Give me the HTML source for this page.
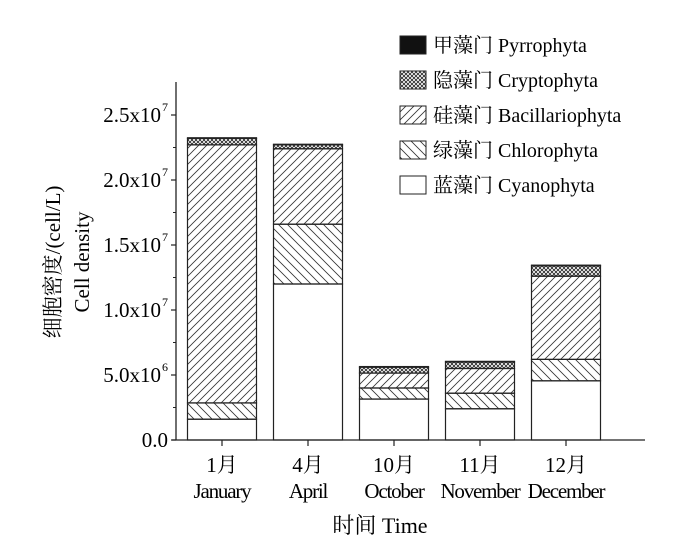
<!DOCTYPE html>
<html><head><meta charset="utf-8"><style>
html,body{margin:0;padding:0;background:#fff;}
svg{display:block;font-family:"Liberation Serif","Noto Serif CJK SC",serif;}
</style></head><body>
<svg id="chart" width="700" height="544" viewBox="0 0 700 544">
<defs>
<pattern id="pBac" patternUnits="userSpaceOnUse" width="8" height="8"><path d="M-2,2 L2,-2 M0,8 L8,0 M6,10 L10,6" stroke="#333" stroke-width="0.8"/></pattern>
<pattern id="pChl" patternUnits="userSpaceOnUse" width="9" height="9"><path d="M-2,7 L2,11 M0,0 L9,9 M7,-2 L11,2" stroke="#333" stroke-width="0.8"/></pattern>
<pattern id="pCry" patternUnits="userSpaceOnUse" width="4" height="4"><path d="M0,0 L4,4 M4,0 L0,4" stroke="#222" stroke-width="0.8"/></pattern>
</defs>
<g id="plot"></g>
</svg>
<script>
const categories=["1月","4月","10月","11月","12月"];
const categoriesEn=["January","April","October","November","December"];
const cyanophyta=[1.6e6,12.0e6,3.15e6,2.4e6,4.55e6];
const chlorophyta=[1.25e6,4.6e6,0.85e6,1.2e6,1.65e6];
const bacillariophyta=[19.85e6,5.8e6,1.15e6,1.9e6,6.4e6];
const cryptophyta=[0.5e6,0.3e6,0.45e6,0.5e6,0.8e6];
const pyrrophyta=[0.05e6,0.05e6,0.05e6,0.05e6,0.05e6];
const yTickValues=[0,5e6,1e7,1.5e7,2e7,2.5e7];
const yTickMant=["0.0","5.0x10","1.0x10","1.5x10","2.0x10","2.5x10"];
const yTickExp=["","6","7","7","7","7"];
const legendLabels=["甲藻门 Pyrrophyta","隐藻门 Cryptophyta","硅藻门 Bacillariophyta","绿藻门 Chlorophyta","蓝藻门 Cyanophyta"];

const NS="http://www.w3.org/2000/svg";
const g=document.getElementById('plot');
const X0=176,Y0=440,PXPER=65/5e6;
const y=v=>Y0-v*PXPER;
const barW=69,step=86,firstC=222;
const xc=i=>firstC+i*step;
function mk(t,a,p){const e=document.createElementNS(NS,t);for(const k in a)e.setAttribute(k,a[k]);(p||g).appendChild(e);return e;}

const series=[cyanophyta,chlorophyta,bacillariophyta,cryptophyta,pyrrophyta];
const fills=["#fff","url(#pChl)","url(#pBac)","url(#pCry)","#111"];
const snames=["cyanophyta","chlorophyta","bacillariophyta","cryptophyta","pyrrophyta"];
categories.forEach((c,i)=>{
  let cum=0;
  series.forEach((s,k)=>{
    const y1=y(cum),y2=y(cum+s[i]);cum+=s[i];
    const r=mk('rect',{x:xc(i)-barW/2,y:y2,width:barW,height:y1-y2,fill:fills[k],stroke:'#222','stroke-width':1.2});
    
    
  });
  const t=mk('line',{x1:xc(i),x2:xc(i),y1:Y0,y2:Y0+6,stroke:'#222','stroke-width':1.2});
  
  
  const l1=mk('text',{x:xc(i),y:472,'text-anchor':'middle','font-size':21});l1.textContent=c;
  
  
  const l2=mk('text',{x:xc(i),y:498,'text-anchor':'middle','font-size':21,'letter-spacing':'-1.2'});l2.textContent=categoriesEn[i];
  
  
});
const ya=mk('line',{x1:X0,x2:X0,y1:82,y2:Y0,stroke:'#222','stroke-width':1.3});


const xa=mk('line',{x1:X0-4,x2:645,y1:Y0,y2:Y0,stroke:'#222','stroke-width':1.3});


for(let v=2.5e6;v<2.5e7;v+=5e6){const m=mk('line',{x1:X0-3,x2:X0,y1:y(v),y2:y(v),stroke:'#222','stroke-width':1});

}
yTickValues.forEach((v,i)=>{
  const t=mk('line',{x1:X0-5,x2:X0,y1:y(v),y2:y(v),stroke:'#222','stroke-width':1.2});
  
  
  const tx=mk('text',{x:X0-8,y:y(v)+7,'text-anchor':'end','font-size':21});
  
  
  tx.textContent=yTickMant[i];
  if(yTickExp[i]){tx.setAttribute('x',X0-15);const s=mk('text',{x:X0-14,y:y(v)-4,'font-size':12});s.textContent=yTickExp[i];
  
  }
});
const yt=mk('text',{transform:'translate(60,262) rotate(-90)','text-anchor':'middle','font-size':21});
yt.textContent='细胞密度/(cell/L)';


const yt2=mk('text',{transform:'translate(89,262) rotate(-90)','text-anchor':'middle','font-size':21});
yt2.textContent='Cell density';


const xt=mk('text',{x:380,y:533,'text-anchor':'middle','font-size':22});
xt.textContent='时间  Time';


const lf=["#111","url(#pCry)","url(#pBac)","url(#pChl)","#fff"];
legendLabels.forEach((lab,i)=>{
  const cy=45+i*35;
  const r=mk('rect',{x:400,y:cy-9,width:26,height:18,fill:lf[i],stroke:'#222','stroke-width':1});
  
  
  const t=mk('text',{x:433,y:cy+7,'font-size':20});t.textContent=lab;
  
  
});
</script>
</body></html>
